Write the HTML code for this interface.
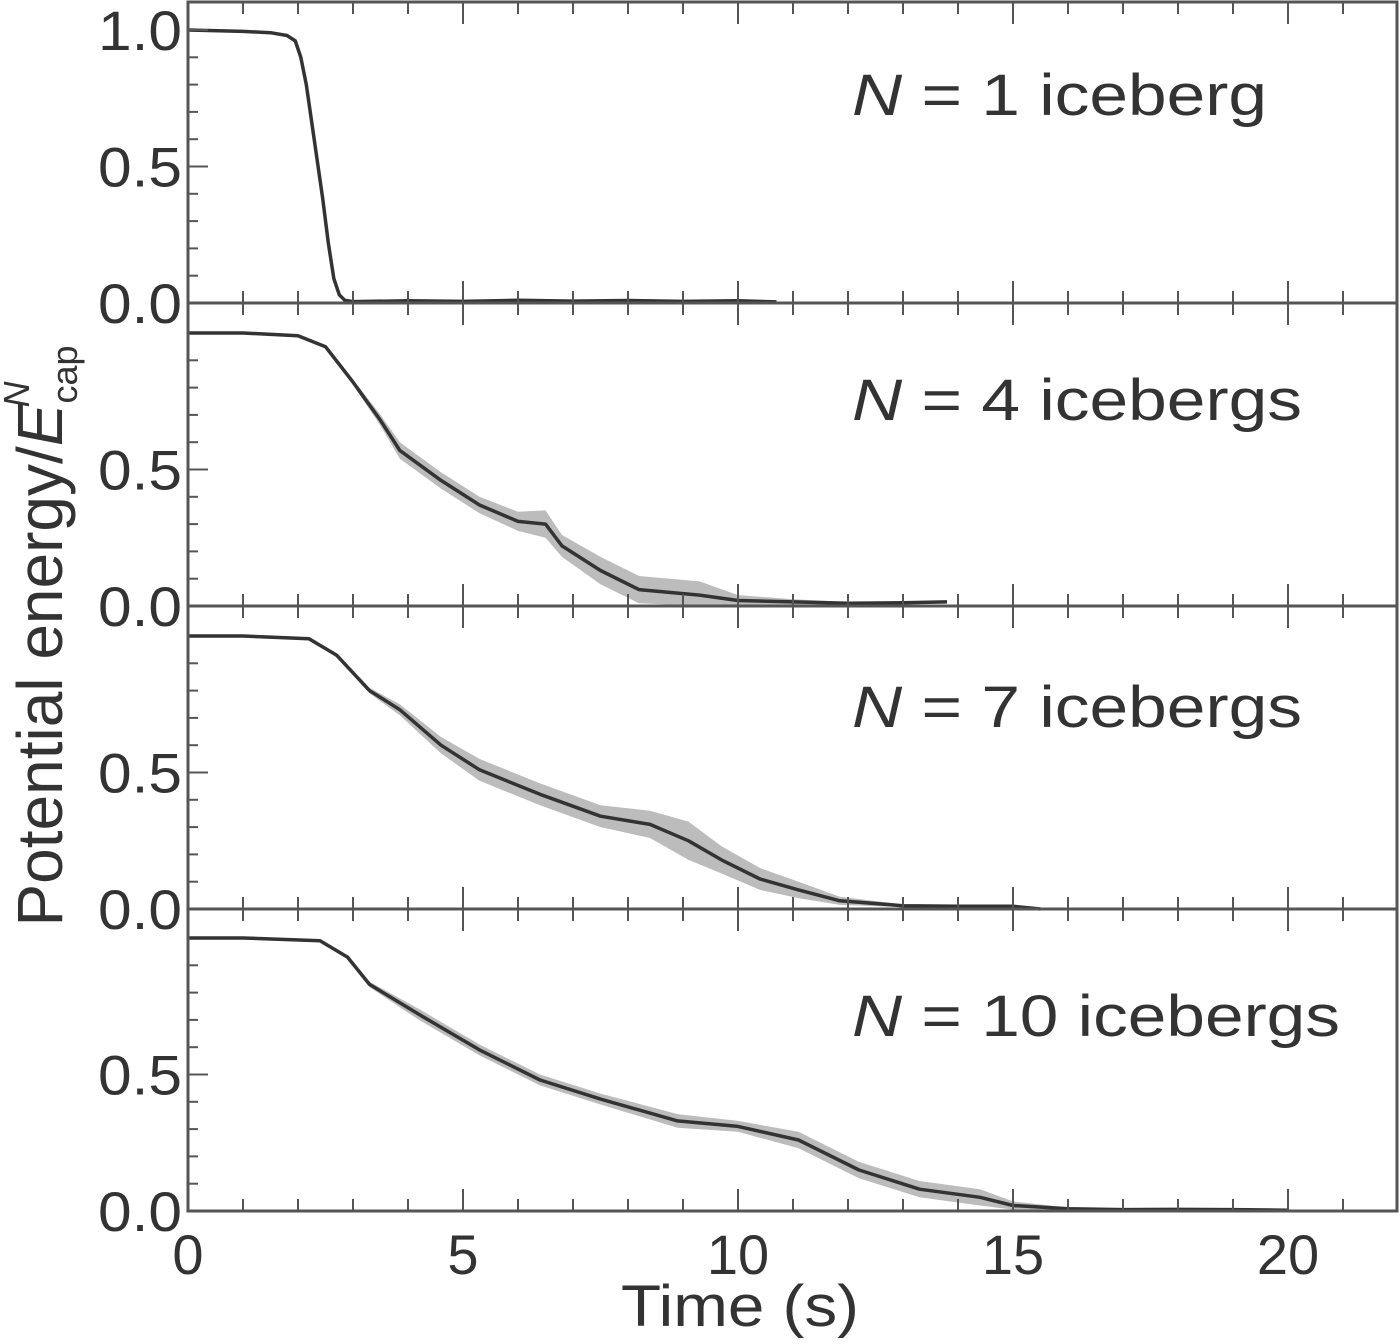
<!DOCTYPE html>
<html><head><meta charset="utf-8">
<style>
html,body{margin:0;padding:0;background:#fff;}
svg{display:block;font-family:"Liberation Sans",sans-serif;}
</style></head>
<body>
<svg id="chart" width="1400" height="1344" viewBox="0 0 1400 1344" xmlns="http://www.w3.org/2000/svg">
<text transform="translate(62,636) rotate(-90)" text-anchor="middle" font-size="64" fill="#333">Potential energy/<tspan font-style="italic">E</tspan><tspan font-size="36" dy="15">cap</tspan><tspan font-size="36" font-style="italic" dx="-62" dy="-48">N</tspan></text>
<text x="740" y="1326" text-anchor="middle" font-size="58" textLength="238" lengthAdjust="spacingAndGlyphs" fill="#333">Time (s)</text>
</svg>
<script>
const xTicks = [0, 5, 10, 15, 20];
const yTicks = [0.0, 0.5, 1.0];
const panelLabels = ["1 iceberg", "4 icebergs", "7 icebergs", "10 icebergs"];
const p1Time = [0,1,1.5,1.8,1.95,2.05,2.15,2.25,2.35,2.45,2.55,2.65,2.75,2.85,3,4,5,6,7,8,9,10,10.7];
const p1Mean = [1.0,0.995,0.99,0.98,0.96,0.9,0.8,0.66,0.52,0.38,0.22,0.09,0.03,0.01,0.005,0.008,0.006,0.01,0.007,0.009,0.006,0.008,0.004];
const p2Time = [0,1,2,2.5,3,3.5,3.85,4.6,5.3,6.0,6.5,6.8,7.5,8.2,9.3,10,11,12,13,13.8];
const p2Mean = [1.0,1.0,0.99,0.95,0.82,0.68,0.57,0.46,0.37,0.31,0.30,0.22,0.13,0.06,0.04,0.02,0.015,0.01,0.012,0.015];
const p2Spread = [0,0,0,0.005,0.01,0.02,0.03,0.03,0.03,0.035,0.05,0.04,0.05,0.05,0.05,0.02,0.01,0.005,0.005,0.005];
const p3Time = [0,1,2.2,2.7,3.3,3.85,4.6,5.3,6.4,7.5,8.4,9.1,9.7,10.4,11.1,11.85,13,14,15,15.5];
const p3Mean = [1.0,1.0,0.99,0.93,0.8,0.73,0.6,0.51,0.42,0.34,0.31,0.25,0.18,0.11,0.07,0.03,0.012,0.01,0.01,0.0];
const p3Spread = [0,0,0,0.005,0.01,0.02,0.03,0.04,0.04,0.04,0.05,0.07,0.05,0.04,0.03,0.015,0.005,0.005,0.005,0];
const p4Time = [0,1,2.4,2.9,3.3,4.2,5.3,6.4,7.5,8.9,10,11.1,12.2,13.3,14.4,15,16,17,18,19,20];
const p4Mean = [1.0,1.0,0.99,0.93,0.83,0.72,0.59,0.48,0.41,0.33,0.31,0.26,0.15,0.08,0.05,0.02,0.008,0.005,0.006,0.005,0.003];
const p4Spread = [0,0,0,0.005,0.01,0.02,0.02,0.02,0.02,0.025,0.02,0.03,0.03,0.03,0.03,0.015,0.005,0.005,0.005,0.005,0];
const series = [[p1Time,p1Mean,null],[p2Time,p2Mean,p2Spread],[p3Time,p3Mean,p3Spread],[p4Time,p4Mean,p4Spread]];

const svg = document.getElementById('chart');
const NS = 'http://www.w3.org/2000/svg';
const L = 188, R = 1397, PX = 55;
const zeros = [303, 606, 909, 1211];
const UNIT = 273;
const labelW = [415, 450, 450, 488];
const xs = t => L + t * PX;
function mk(tag, attrs){const e=document.createElementNS(NS,tag);for(const k in attrs)e.setAttribute(k,attrs[k]);svg.appendChild(e);return e;}

series.forEach((s, i) => {
  const z = zeros[i];
  const ys = v => z - v * UNIT;
  const [T, M, S] = s;
  if (S) {
    let d = T.map((t,j)=>(j?'L':'M')+xs(t).toFixed(1)+','+ys(M[j]+S[j]).toFixed(1)).join('');
    for (let j=T.length-1;j>=0;j--) d+='L'+xs(T[j]).toFixed(1)+','+ys(Math.max(0,M[j]-S[j])).toFixed(1);
    const b = mk('path',{d:d+'Z',fill:'#bcbcbc',stroke:'none'});
    
    
  }
  const d = T.map((t,j)=>(j?'L':'M')+xs(t).toFixed(1)+','+ys(M[j]).toFixed(1)).join('');
  const ln = mk('path',{d:d,fill:'none',stroke:'#333',"stroke-width":3.5,"stroke-linejoin":'round'});
  
  
  for (let k=1;k<=10;k++){
    const v=k/10, y=ys(v);
    const len = (k===5||k===10)?20:10;
    if (i>0 && k===10) continue;
    mk('line',{x1:L,x2:L+len,y1:y,y2:y,stroke:'#555',"stroke-width":2});
  }
  yTicks.forEach(v => {
    if (i>0 && v===1.0) return;
    const tx = mk('text',{x:182,y:ys(v)+20,"text-anchor":'end',"font-size":56,textLength:84,lengthAdjust:'spacingAndGlyphs',fill:'#333'});
    tx.textContent = v.toFixed(1);
    
    
  });
  for (let t=1;t<=21;t++){
    const x=xs(t), len=(t%5===0)?22:12;
    mk('line',{x1:x,x2:x,y1:z,y2:z-len,stroke:'#555',"stroke-width":2});
    if (i<3) mk('line',{x1:x,x2:x,y1:z,y2:z+len,stroke:'#555',"stroke-width":2});
  }
  const lab = mk('text',{x:852,y:[115,420,727,1036][i],"font-size":58,textLength:labelW[i],lengthAdjust:'spacingAndGlyphs',fill:'#333'});
  lab.innerHTML = '<tspan font-style="italic">N</tspan> = ' + panelLabels[i];
  
  
});
for (let t=1;t<=21;t++){ const x=xs(t); mk('line',{x1:x,x2:x,y1:2,y2:(t%5===0)?24:14,stroke:'#555',"stroke-width":2}); }
const fr = mk('rect',{x:L,y:2,width:R-L,height:1211-2,fill:'none',stroke:'#555',"stroke-width":3});


zeros.slice(0,3).forEach(z=>mk('line',{x1:L,x2:R,y1:z,y2:z,stroke:'#555',"stroke-width":3}));
xTicks.forEach(t => {
  const tx = mk('text',{x:xs(t),y:1274,"text-anchor":'middle',"font-size":56,fill:'#333'});
  tx.textContent = t;
  
  
});
</script>
</body></html>
